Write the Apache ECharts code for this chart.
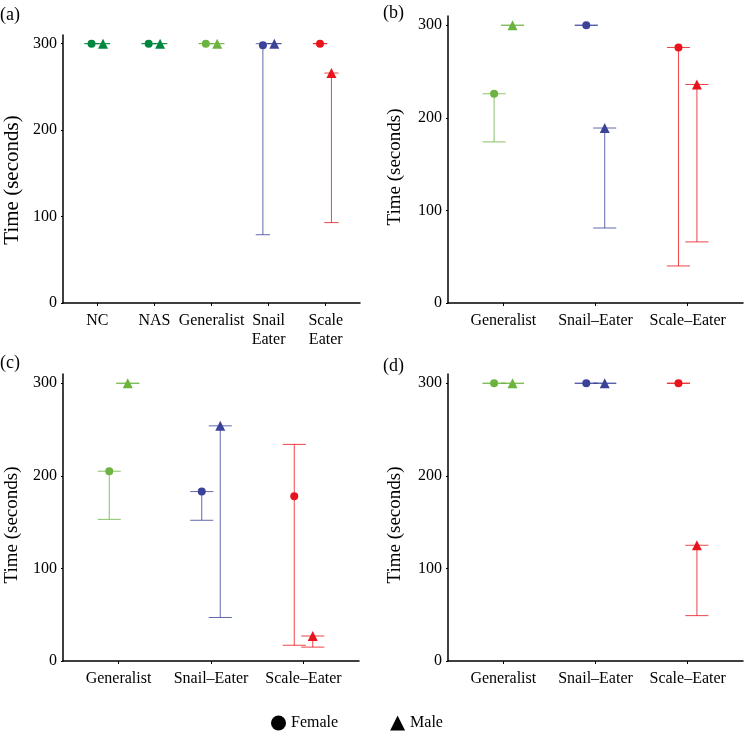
<!DOCTYPE html>
<html>
<head>
<meta charset="utf-8">
<script src="https://cdn.jsdelivr.net/npm/echarts@6/dist/echarts.min.js"></script>
<style>html,body{margin:0;padding:0;background:#fff}#c{width:745px;height:731px}</style>
</head>
<body>
<div id="c"></div>
<script>
// ---- categories ----
const catsA = ['NC', 'NAS', 'Generalist', 'Snail\nEater', 'Scale\nEater'];
const catsBCD = ['Generalist', 'Snail–Eater', 'Scale–Eater'];
const colorsA = ['#00873f', '#00873f', '#6cb33f', '#3b4399', '#e8141d'];
const colorsBCD = ['#6cb33f', '#3b4399', '#e8141d'];
const yTicks = [0, 100, 200, 300];

// ---- panel (a) ----
const aFemaleMean = [300, 300, 300, 298, 300];
const aFemaleLow  = [300, 300, 300, 79, 300];
const aFemaleHigh = [300, 300, 300, 300, 300];
const aMaleMean   = [300, 300, 300, 300, 266];
const aMaleLow    = [300, 300, 300, 300, 93];
const aMaleHigh   = [300, 300, 300, 300, 266];

// ---- panel (b) ----
const bFemaleMean = [226, 300, 276];
const bFemaleLow  = [174, 300, 40];
const bFemaleHigh = [226, 300, 276];
const bMaleMean   = [300, 189, 236];
const bMaleLow    = [300, 81, 66];
const bMaleHigh   = [300, 189, 236];

// ---- panel (c) ----
const cFemaleMean = [205, 183, 178];
const cFemaleLow  = [153, 152, 17];
const cFemaleHigh = [205, 183, 234];
const cMaleMean   = [300, 254, 27];
const cMaleLow    = [300, 47, 15];
const cMaleHigh   = [300, 254, 27];

// ---- panel (d) ----
const dFemaleMean = [300, 300, 300];
const dFemaleLow  = [300, 300, 300];
const dFemaleHigh = [300, 300, 300];
const dMaleMean   = [300, 300, 125];
const dMaleLow    = [300, 300, 49];
const dMaleHigh   = [300, 300, 125];

const FONT = 'Liberation Serif';
const DODGE = 0.1;
const CAP = 0.125;

const panels = [
  {label: '(a)', cats: catsA, colors: colorsA, grid: {left: 63, top: 35, width: 297, height: 268},
   f: [aFemaleMean, aFemaleLow, aFemaleHigh], m: [aMaleMean, aMaleLow, aMaleHigh],
   lab: [0, 6], title: [12.5, 180], titleSize: 21},
  {label: '(b)', cats: catsBCD, colors: colorsBCD, grid: {left: 448, top: 16, width: 295, height: 287},
   f: [bFemaleMean, bFemaleLow, bFemaleHigh], m: [bMaleMean, bMaleLow, bMaleHigh],
   lab: [383, 4], title: [395, 167], titleSize: 19},
  {label: '(c)', cats: catsBCD, colors: colorsBCD, grid: {left: 63, top: 374, width: 296, height: 287},
   f: [cFemaleMean, cFemaleLow, cFemaleHigh], m: [cMaleMean, cMaleLow, cMaleHigh],
   lab: [0, 354], title: [12.5, 525], titleSize: 19},
  {label: '(d)', cats: catsBCD, colors: colorsBCD, grid: {left: 448, top: 374, width: 295, height: 287},
   f: [dFemaleMean, dFemaleLow, dFemaleHigh], m: [dMaleMean, dMaleLow, dMaleHigh],
   lab: [383, 357], title: [395, 525], titleSize: 19}
];

const grids = [], xAxes = [], yAxes = [], series = [], graphics = [];

function errRender(colors) {
  return function (params, api) {
    const x = api.value(0), lo = api.value(1), hi = api.value(2);
    const c = colors[params.dataIndex];
    const st = {stroke: c, lineWidth: 1, opacity: 0.8};
    const pLo = api.coord([x, lo]), pHi = api.coord([x, hi]);
    const lL = api.coord([x - CAP, lo]), lR = api.coord([x + CAP, lo]);
    const hL = api.coord([x - CAP, hi]), hR = api.coord([x + CAP, hi]);
    return {
      type: 'group',
      children: [
        {type: 'line', shape: {x1: pLo[0], y1: pLo[1], x2: pHi[0], y2: pHi[1]}, style: st},
        {type: 'line', shape: {x1: lL[0], y1: lL[1], x2: lR[0], y2: lR[1]}, style: st},
        {type: 'line', shape: {x1: hL[0], y1: hL[1], x2: hR[0], y2: hR[1]}, style: st}
      ]
    };
  };
}

panels.forEach((p, i) => {
  const n = p.cats.length;
  const idx = p.cats.map((_, k) => k + 1);
  grids.push(Object.assign({containLabel: false}, p.grid));
  xAxes.push({
    type: 'value', gridIndex: i, min: 0.4, max: n + 0.6,
    splitLine: {show: false},
    axisLine: {show: true, onZero: false, lineStyle: {color: '#000', width: 1.5}},
    axisTick: {show: true, length: 3, customValues: idx, lineStyle: {color: '#000'}},
    axisLabel: {customValues: idx, formatter: v => p.cats[Math.round(v) - 1] || '',
      color: '#000', fontFamily: FONT, fontSize: 16, lineHeight: 19, margin: 8}
  });
  yAxes.push({
    type: 'value', gridIndex: i, min: 0, max: 310,
    splitLine: {show: false},
    axisLine: {show: true, lineStyle: {color: '#000', width: 1.5}},
    axisTick: {show: true, length: 2, customValues: yTicks, lineStyle: {color: '#000'}},
    axisLabel: {customValues: yTicks, color: '#000', fontFamily: FONT, fontSize: 16, margin: 6}
  });
  const fx = idx.map(v => v - DODGE), mx = idx.map(v => v + DODGE);
  series.push({
    type: 'custom', xAxisIndex: i, yAxisIndex: i, silent: true,
    renderItem: errRender(p.colors),
    data: fx.map((x, k) => [x, p.f[1][k], p.f[2][k]]), z: 2
  });
  series.push({
    type: 'custom', xAxisIndex: i, yAxisIndex: i, silent: true,
    renderItem: errRender(p.colors),
    data: mx.map((x, k) => [x, p.m[1][k], p.m[2][k]]), z: 2
  });
  series.push({
    name: 'Female', type: 'scatter', xAxisIndex: i, yAxisIndex: i, symbol: 'circle', symbolSize: 8,
    itemStyle: {color: '#000', opacity: 1}, z: 3,
    data: fx.map((x, k) => ({value: [x, p.f[0][k]], itemStyle: {color: p.colors[k], opacity: 1}}))
  });
  series.push({
    name: 'Male', type: 'scatter', xAxisIndex: i, yAxisIndex: i, symbol: 'triangle', symbolSize: 10,
    itemStyle: {color: '#000', opacity: 1}, z: 3,
    data: mx.map((x, k) => ({value: [x, p.m[0][k]], itemStyle: {color: p.colors[k], opacity: 1}}))
  });
  graphics.push({type: 'text', left: p.lab[0], top: p.lab[1],
    style: {text: p.label, fontFamily: FONT, fontSize: 18, fill: '#000'}});
  graphics.push({type: 'text', x: p.title[0], y: p.title[1], rotation: Math.PI / 2,
    style: {text: 'Time (seconds)', fontFamily: FONT, fontSize: p.titleSize, fill: '#000',
      align: 'center', verticalAlign: 'middle'}});
});

const chart = echarts.init(document.getElementById('c'), null, {renderer: 'canvas'});
chart.setOption({
  animation: false,
  backgroundColor: '#fff',
  grid: grids,
  xAxis: xAxes,
  yAxis: yAxes,
  series: series,
  graphic: graphics,
  legend: {
    data: [{name: 'Female', icon: 'circle'}, {name: 'Male', icon: 'triangle'}],
    left: 266, top: 710, itemWidth: 15, itemHeight: 15, itemGap: 52,
    selectedMode: false,
    textStyle: {fontFamily: FONT, fontSize: 16, color: '#000'}
  }
});
</script>
</body>
</html>
